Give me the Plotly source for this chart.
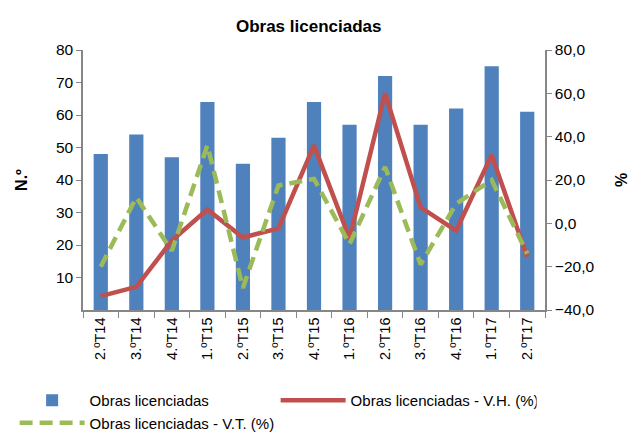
import plotly.graph_objects as go

categories = ["2.ºT14", "3.ºT14", "4.ºT14", "1.ºT15", "2.ºT15", "3.ºT15", "4.ºT15",
              "1.ºT16", "2.ºT16", "3.ºT16", "4.ºT16", "1.ºT17", "2.ºT17"]
obras = [48, 54, 47, 64, 45, 53, 64, 57, 72, 57, 62, 75, 61]
var_homologa = [-33.6, -29.3, -8.0, 6.4, -6.5, -2.3, 36.0, -7.0, 60.0, 7.4, -3.4, 31.5, -15.5]
var_trimestral = [-20.0, 12.0, -12.7, 36.0, -29.8, 17.5, 20.5, -9.6, 26.0, -19.0, 9.0, 20.0, -14.0]

FONT = "Liberation Sans, Arial, sans-serif"
AXIS_GREY = "#868686"

fig = go.Figure()
fig.add_trace(go.Bar(x=categories, y=obras, name="Obras licenciadas",
                     marker=dict(color="#4F81BD", line=dict(width=0)), width=0.4,
                     yaxis="y"))
fig.add_trace(go.Scatter(x=categories, y=var_homologa, name="Obras licenciadas - V.H. (%)",
                         mode="lines", line=dict(color="#C0504D", width=4.5), yaxis="y2"))
fig.add_trace(go.Scatter(x=categories, y=var_trimestral, name="Obras licenciadas - V.T. (%)",
                         mode="lines", line=dict(color="#9BBB59", width=4.5, dash="13px,7px"),
                         yaxis="y2"))

fig.update_layout(
    width=630, height=435,
    margin=dict(l=83, r=85, t=50, b=125, autoexpand=False),
    paper_bgcolor="white", plot_bgcolor="white",
    separators=",.",
    font=dict(family=FONT, size=15, color="black"),
    title=dict(text="<b>Obras licenciadas</b>", x=0.49, xanchor="center",
               y=0.94, yanchor="middle", font=dict(size=17, family=FONT)),
    xaxis=dict(showline=True, linecolor=AXIS_GREY, linewidth=1.5, ticks="outside",
               tickcolor=AXIS_GREY, ticklen=6, tickson="boundaries", tickangle=-90,
               tickfont=dict(size=14.5), showgrid=False, automargin=False),
    yaxis=dict(range=[0, 80], tickvals=[10, 20, 30, 40, 50, 60, 70, 80],
               showline=True, linecolor=AXIS_GREY, linewidth=1.5, ticks="outside",
               tickcolor=AXIS_GREY, ticklen=5, showgrid=False, zeroline=False,
               automargin=False, tickfont=dict(size=15.5),
               title=dict(text="<b>N.º</b>", font=dict(size=16), standoff=24)),
    yaxis2=dict(range=[-40, 80], dtick=20, tickformat=".1f", overlaying="y", side="right",
                showline=True, linecolor=AXIS_GREY, linewidth=1.5, ticks="outside",
                tickcolor=AXIS_GREY, ticklen=5, showgrid=False, zeroline=False,
                automargin=False, tickfont=dict(size=15.5),
                title=dict(text="<b>%</b>", font=dict(size=16), standoff=22)),
    legend=dict(orientation="h", x=-0.148, xanchor="left", y=-0.285, yanchor="top",
                entrywidth=181, entrywidthmode="pixels", font=dict(size=15),
                itemwidth=65, traceorder="normal", tracegroupgap=0),
    showlegend=True,
)

fig.write_html("out.html", post_script="document.body.style.margin='0';",
               config={"displayModeBar": False})
